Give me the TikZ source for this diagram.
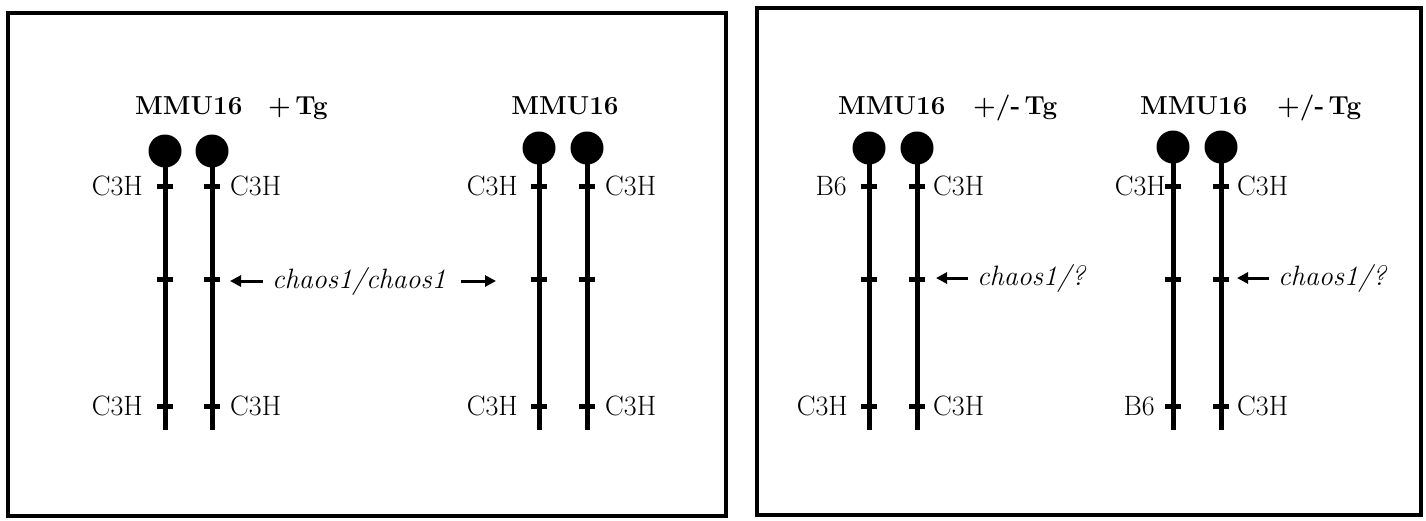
\documentclass[tikz,border=0pt]{standalone}
\usepackage{fontspec}
\usetikzlibrary{arrows.meta}
\begin{document}
\begin{tikzpicture}[x=1pt,y=-1pt,
  panel/.style={draw=black,line width=4pt},
  centro/.style={circle,fill=black,inner sep=0pt,minimum size=33pt},
  chrom/.style={line width=5pt},
  tickmark/.style={line width=5pt},
  lab/.style={inner sep=0pt,font=\fontsize{28}{32}\selectfont},
  head/.style={inner sep=0pt,font=\fontsize{26}{30}\selectfont\bfseries},
  gene/.style={inner sep=0pt,font=\fontsize{28}{32}\selectfont\itshape},
  arr/.style={line width=3pt,-{Triangle[length=11pt,width=11pt]}}
]
\useasboundingbox (0,0) rectangle (1426,520);
\draw[panel] (8,13) rectangle (726,516);
\draw[panel] (757,8) rectangle (1421,515);

% chromosome pairs
\foreach \n/\x/\y in {a1/165/151, a2/212/151, b1/539/148, b2/587/148, c1/869/148, c2/917/148, d1/1173/147, d2/1221/147}{
  \node[centro] (\n) at (\x,\y) {};
  \coordinate (\n-end) at (\x,430);
  \draw[chrom] (\n.center) -- (\n-end);
  \coordinate (\n-t1) at (\x,186);
  \coordinate (\n-t2) at (\x,279);
  \coordinate (\n-t3) at (\x,406);
  \foreach \t in {t1,t2,t3}{
    \draw[tickmark] ([xshift=-8pt]\n-\t) -- ([xshift=8pt]\n-\t);
  }
}

% headings
\node[head,anchor=base west] (h1) at (135,114) {MMU16};
\node[head,anchor=base west] (h1t) at (268,114) {+\,Tg};
\node[head,anchor=base] (h2) at (565,114) {MMU16};
\node[head,anchor=base west] (h3) at (838,114) {MMU16};
\node[head,anchor=base west] (h3t) at (973,114) {+/-\,Tg};
\node[head,anchor=base west] (h4) at (1140,114) {MMU16};
\node[head,anchor=base west] (h4t) at (1277,114) {+/-\,Tg};

% strain labels
\node[lab,anchor=east] (la1) at ([xshift=-22pt]a1-t1) {C3H};
\node[lab,anchor=west] (la2) at ([xshift=18pt]a2-t1) {C3H};
\node[lab,anchor=east] (la3) at ([xshift=-22pt]a1-t3) {C3H};
\node[lab,anchor=west] (la4) at ([xshift=18pt]a2-t3) {C3H};
\node[lab,anchor=east] (lb1) at ([xshift=-21pt]b1-t1) {C3H};
\node[lab,anchor=west] (lb2) at ([xshift=18pt]b2-t1) {C3H};
\node[lab,anchor=east] (lb3) at ([xshift=-21pt]b1-t3) {C3H};
\node[lab,anchor=west] (lb4) at ([xshift=18pt]b2-t3) {C3H};
\node[lab,anchor=east] (lc1) at ([xshift=-22pt]c1-t1) {B6};
\node[lab,anchor=west] (lc2) at ([xshift=16pt]c2-t1) {C3H};
\node[lab,anchor=east] (lc3) at ([xshift=-21pt]c1-t3) {C3H};
\node[lab,anchor=west] (lc4) at ([xshift=16pt]c2-t3) {C3H};
\node[lab,anchor=east] (ld1) at ([xshift=-7pt]d1-t1) {C3H};
\node[lab,anchor=west] (ld2) at ([xshift=16pt]d2-t1) {C3H};
\node[lab,anchor=east] (ld3) at ([xshift=-18pt]d1-t3) {B6};
\node[lab,anchor=west] (ld4) at ([xshift=16pt]d2-t3) {C3H};

% gene labels and arrows
\node[gene,anchor=west] (g1) at (272,281) {chaos1/chaos1};
\coordinate (g1l) at (230,281);
\coordinate (g1r) at (496,281);
\draw[arr] ([xshift=-9pt]g1.west) -- (g1l);
\draw[arr] ([xshift=15pt]g1.east) -- (g1r);

\node[gene,anchor=west] (g2) at (977,278) {chaos1/?};
\coordinate (g2l) at (936,278);
\draw[arr] ([xshift=-9pt]g2.west) -- (g2l);

\node[gene,anchor=west] (g3) at (1278,278) {chaos1/?};
\coordinate (g3l) at (1237,278);
\draw[arr] ([xshift=-9pt]g3.west) -- (g3l);
\end{tikzpicture}
\end{document}
